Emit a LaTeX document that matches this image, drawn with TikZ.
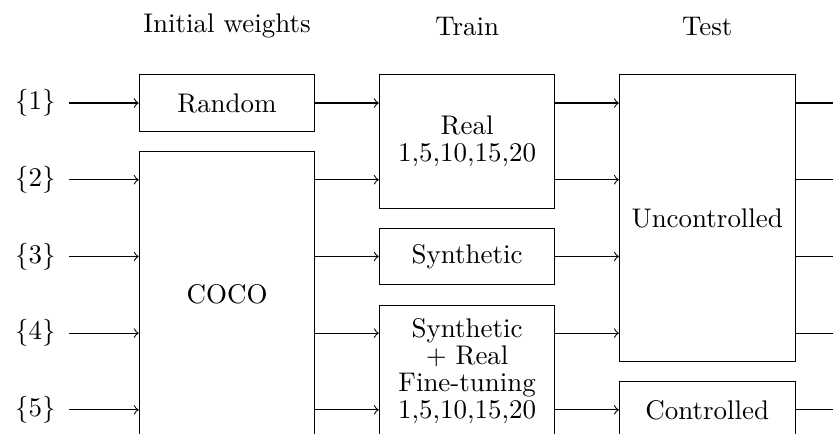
\documentclass[tikz,border=0pt]{standalone}
\usepackage{xcolor}
\begin{document}
\begin{tikzpicture}
    \tikzstyle{block} = [draw, align=center, minimum width=2.29cm, font=\fontsize{10}{10}\selectfont]
    \tikzstyle{input} = [->, shorten <=1.5pt]
    \useasboundingbox (0, -4.302) rectangle (10.86, 1.343);
    \clip (0, -4.302) rectangle (10.86, 1.343);
    % column headers
    \node (hinit) at (2.96, 1) {Initial weights};
    \node (htrain) at (6.09, 1) {Train};
    \node (htest) at (9.22, 1) {Test};
    % experiments
    \node (l1) at (0.46, 0) {\(\{1\}\)};
    \node (l2) at (0.46, -1) {\(\{2\}\)};
    \node (l3) at (0.46, -2) {\(\{3\}\)};
    \node (l4) at (0.46, -3) {\(\{4\}\)};
    \node (l5) at (0.46, -4) {\(\{5\}\)};
    % initial weights
    \node[block, minimum height=0.75cm] (rand) at (2.96, 0) {Random};
    \node[block, minimum height=3.74cm] (coco) at (2.96, -2.5) {COCO};
    % training data
    \node[block, minimum height=1.75cm] (real) at (6.09, -0.5) {Real\\1,5,10,15,20};
    \node[block, minimum height=0.73cm] (synth) at (6.09, -2) {Synthetic};
    \node[block, minimum height=1.73cm] (synreal) at (6.09, -3.5) {Synthetic\\+ Real\\Fine-tuning\\1,5,10,15,20};
    % test data
    \node[block, minimum height=3.75cm] (unctrl) at (9.22, -1.5) {Uncontrolled};
    \node[block, minimum height=0.73cm] (ctrl) at (9.22, -4) {Controlled};
    \coordinate (o1) at (10.9, 0);
    \coordinate (o2) at (10.9, -1);
    \coordinate (o3) at (10.9, -2);
    \coordinate (o4) at (10.9, -3);
    \coordinate (o5) at (10.9, -4);
    % inputs
    \draw[input] (l1.east) -- (rand.west);
    \draw[input] (l2.east) -- (l2.east -| coco.west);
    \draw[input] (l3.east) -- (l3.east -| coco.west);
    \draw[input] (l4.east) -- (l4.east -| coco.west);
    \draw[input] (l5.east) -- (l5.east -| coco.west);
    % weights to training
    \draw[->] (rand.east) -- (rand.east -| real.west);
    \draw[->] (l2 -| coco.east) -- (l2 -| real.west);
    \draw[->] (l3 -| coco.east) -- (synth.west);
    \draw[->] (l4 -| coco.east) -- (l4 -| synreal.west);
    \draw[->] (l5 -| coco.east) -- (l5 -| synreal.west);
    % training to test
    \draw[->] (l1 -| real.east) -- (l1 -| unctrl.west);
    \draw[->] (l2 -| real.east) -- (l2 -| unctrl.west);
    \draw[->] (synth.east) -- (l3 -| unctrl.west);
    \draw[->] (l4 -| synreal.east) -- (l4 -| unctrl.west);
    \draw[->] (l5 -| synreal.east) -- (ctrl.west);
    % outputs
    \draw (l1 -| unctrl.east) -- (o1);
    \draw (l2 -| unctrl.east) -- (o2);
    \draw (l3 -| unctrl.east) -- (o3);
    \draw (l4 -| unctrl.east) -- (o4);
    \draw (ctrl.east) -- (o5);
\end{tikzpicture}
\end{document}
